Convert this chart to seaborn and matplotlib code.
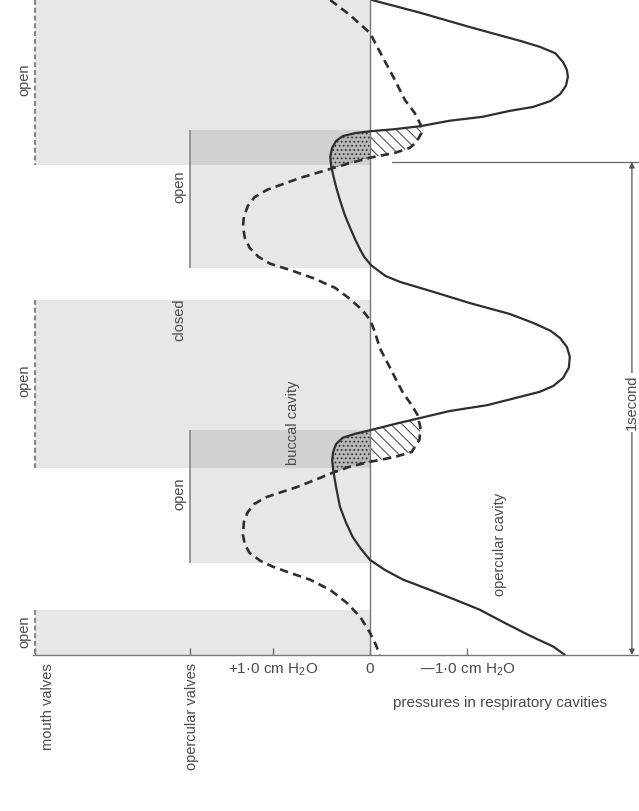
import matplotlib
matplotlib.use("Agg")
import numpy as np
import pandas as pd
import matplotlib.pyplot as plt
import matplotlib.transforms as mtransforms
from matplotlib.patches import Rectangle, Polygon
import seaborn as sns

# ---------------- data (time in s from top of trace, pressure in cm H2O) ----------------
oper_t = [0.000, 0.026, 0.055, 0.083, 0.095, 0.108, 0.126, 0.142, 0.156, 0.174, 0.191, 0.205,
          0.217, 0.225, 0.237, 0.245, 0.256, 0.262, 0.266, 0.270, 0.276, 0.286, 0.300, 0.318,
          0.337, 0.355, 0.379, 0.406, 0.436, 0.460, 0.487, 0.507, 0.521, 0.538, 0.560, 0.572,
          0.592, 0.615, 0.637, 0.655, 0.671, 0.686, 0.704, 0.724, 0.746, 0.767, 0.783, 0.795,
          0.805, 0.822, 0.834, 0.848, 0.860, 0.872, 0.880, 0.888, 0.901, 0.917, 0.933, 0.953,
          0.988, 1.028, 1.059, 1.089, 1.112, 1.136, 1.156, 1.176, 1.197, 1.217, 1.237, 1.264,
          1.290, 1.312, 1.329]
oper_p = [-0.02, -0.52, -1.03, -1.55, -1.75, -1.91, -1.99, -2.03, -2.04, -2.02, -1.96, -1.86,
          -1.68, -1.44, -1.16, -0.82, -0.52, -0.26, -0.02, 0.15, 0.28, 0.35, 0.39, 0.41,
          0.40, 0.38, 0.35, 0.31, 0.26, 0.21, 0.15, 0.10, 0.06, -0.01, -0.16, -0.31,
          -0.65, -1.03, -1.44, -1.68, -1.86, -1.96, -2.03, -2.06, -2.05, -1.99, -1.89, -1.75,
          -1.55, -1.21, -0.82, -0.52, -0.26, -0.02, 0.15, 0.28, 0.35, 0.38, 0.39, 0.38,
          0.35, 0.31, 0.25, 0.18, 0.10, 0.00, -0.15, -0.34, -0.62, -0.88, -1.13, -1.39,
          -1.65, -1.89, -2.01]

bucc_t = [0.000, 0.030, 0.067, 0.112, 0.156, 0.203, 0.229, 0.252, 0.270, 0.288, 0.300, 0.310,
          0.320, 0.331, 0.341, 0.361, 0.385, 0.400, 0.418, 0.440, 0.460, 0.483, 0.503, 0.521,
          0.535, 0.548, 0.564, 0.584, 0.606, 0.629, 0.649, 0.673, 0.706, 0.736, 0.767, 0.797,
          0.822, 0.842, 0.868, 0.892, 0.917, 0.927, 0.937, 0.947, 0.959, 0.988, 1.008, 1.022,
          1.039, 1.059, 1.085, 1.105, 1.122, 1.138, 1.150, 1.164, 1.176, 1.197, 1.223, 1.252,
          1.284, 1.308, 1.329]
bucc_p = [0.41, 0.21, 0.00, -0.12, -0.24, -0.36, -0.46, -0.52, -0.53, -0.48, -0.41, -0.26,
          0.00, 0.21, 0.38, 0.72, 1.06, 1.19, 1.26, 1.30, 1.31, 1.29, 1.24, 1.15,
          1.03, 0.82, 0.59, 0.36, 0.21, 0.08, 0.00, -0.05, -0.10, -0.18, -0.26, -0.34,
          -0.43, -0.49, -0.52, -0.51, -0.43, -0.26, 0.00, 0.21, 0.38, 0.75, 1.06, 1.19,
          1.26, 1.30, 1.31, 1.29, 1.24, 1.13, 1.00, 0.80, 0.62, 0.41, 0.24, 0.10,
          0.00, -0.06, -0.10]

# valve states: (start, end) of the open periods, in s
mouth_open = [(0.000, 0.335), (0.609, 0.949), (1.237, 1.329)]
oper_open = [(0.264, 0.544), (0.872, 1.142)]
# reverse-flow windows (where buccal pressure is below opercular pressure)
reverse_windows = [(0.25, 0.35), (0.84, 0.96)]

mouth_labels = [("open", 0.162), ("open", 0.773), ("open", 1.282)]
oper_labels = [("open", 0.379), ("closed", 0.649), ("open", 1.002)]

tick_values = [1.0, 0.0, -1.0]
tick_labels = ["+1·0 cm H$_2$O", "0", "—1·0 cm H$_2$O"]

# ---------------- style ----------------
sns.set_theme(style="white")
plt.rcParams["font.family"] = ["Liberation Sans", "DejaVu Sans"]
plt.rcParams["mathtext.default"] = "regular"
plt.rcParams["hatch.linewidth"] = 0.8

TXT = "#4a4a4a"
LINE = "#2e2e2e"
MOUTH_X = 3.45
OPER_X = 1.86

fig = plt.figure(figsize=(6.39, 8.11), dpi=100)
fig.patch.set_facecolor("white")
ax = fig.add_axes([33 / 639, (811 - 655) / 811, 606 / 639, 655 / 811])
ax.set_facecolor("white")

# valve shading
for t0, t1 in mouth_open:
    ax.fill_betweenx([t0, t1], MOUTH_X, 0, color="black", alpha=0.095, lw=0)
    ax.vlines(MOUTH_X, t0, t1, colors="#888888", lw=1.6, linestyles=(0, (2.2, 1.3)))
for t0, t1 in oper_open:
    ax.fill_betweenx([t0, t1], OPER_X, 0, color="black", alpha=0.095, lw=0)
    ax.vlines(OPER_X, t0, t1, colors="#888888", lw=1.2)

# zero line
ax.axvline(0, color="#777777", lw=1.0)

oper = pd.DataFrame({"t": oper_t, "p": oper_p})
bucc = pd.DataFrame({"t": bucc_t, "p": bucc_p})

# reverse-flow hatched areas
for w0, w1 in reverse_windows:
    s = oper[(oper.t >= w0) & (oper.t <= w1)]
    b = bucc[(bucc.t >= w0) & (bucc.t <= w1)].iloc[::-1]
    poly = np.column_stack([np.r_[s.p.values, b.p.values], np.r_[s.t.values, b.t.values]])
    pos = Polygon(poly, closed=True, facecolor="#b8b8b8", edgecolor="#3a3a3a", lw=0,
                  hatch="....")
    neg = Polygon(poly, closed=True, facecolor="white", edgecolor="#555555", lw=0,
                  hatch="\\\\\\")
    ax.add_patch(pos)
    ax.add_patch(neg)
    pos.set_clip_path(Rectangle((0, -1), 5, 4, transform=ax.transData))
    neg.set_clip_path(Rectangle((-5, -1), 5, 4, transform=ax.transData))

# pressure traces
sns.lineplot(data=oper, x="p", y="t", sort=False, estimator=None, ax=ax,
             color=LINE, lw=1.6)
sns.lineplot(data=bucc, x="p", y="t", sort=False, estimator=None, ax=ax,
             color=LINE, lw=1.9, linestyle=(0, (3.2, 2.0)))

ax.set_xlim(3.474, -2.773)
ax.set_ylim(1.329, 0.0)
ax.set_xlabel("")
ax.set_ylabel("")
ax.set_yticks([])
ax.set_xticks([MOUTH_X, OPER_X] + tick_values)
ax.set_xticklabels(["", ""] + tick_labels, fontsize=11, color=TXT)
ax.tick_params(axis="x", direction="in", length=5, width=1, color="#777777", pad=5,
               bottom=True)
for sp in ["top", "left", "right"]:
    ax.spines[sp].set_visible(False)
ax.spines["bottom"].set_color("#777777")
ax.spines["bottom"].set_linewidth(1.0)

bt = mtransforms.blended_transform_factory(ax.transData, ax.transAxes)
ax.text(3.32, -0.012, "mouth valves", rotation=90, ha="center", va="top",
        fontsize=10.5, color=TXT, transform=bt)
ax.text(1.835, -0.012, "opercular valves", rotation=90, ha="center", va="top",
        fontsize=10.5, color=TXT, transform=bt)
ax.text(-1.34, -0.073, "pressures in respiratory cavities", ha="center", va="center",
        fontsize=11, color=TXT, transform=bt)

for lab, t in mouth_labels:
    ax.text(3.56, t, lab, rotation=90, ha="center", va="center", fontsize=10.5,
            color=TXT, clip_on=False)
for lab, t in oper_labels:
    ax.text(1.96, t, lab, rotation=90, ha="center", va="center", fontsize=10.5,
            color=TXT)

ax.text(0.79, 0.858, "buccal cavity", rotation=90, ha="center", va="center",
        fontsize=10.5, color=TXT)
ax.text(-1.34, 1.105, "opercular cavity", rotation=90, ha="center", va="center",
        fontsize=10.5, color=TXT)

# one-second bracket
ax.plot([-0.227, -2.773], [0.329, 0.329], color="#666666", lw=0.9, clip_on=False)
ax.annotate("", xy=(-2.70, 0.329), xytext=(-2.70, 1.329),
            arrowprops=dict(arrowstyle="<|-|>", color="#555555", lw=0.9,
                            mutation_scale=8, shrinkA=0, shrinkB=0))
ax.text(-2.70, 0.817, "1second", rotation=90, ha="center", va="center", fontsize=10.5,
        color=TXT, bbox=dict(facecolor="white", edgecolor="none", pad=1.5))

fig.savefig("out.png", dpi=100)
